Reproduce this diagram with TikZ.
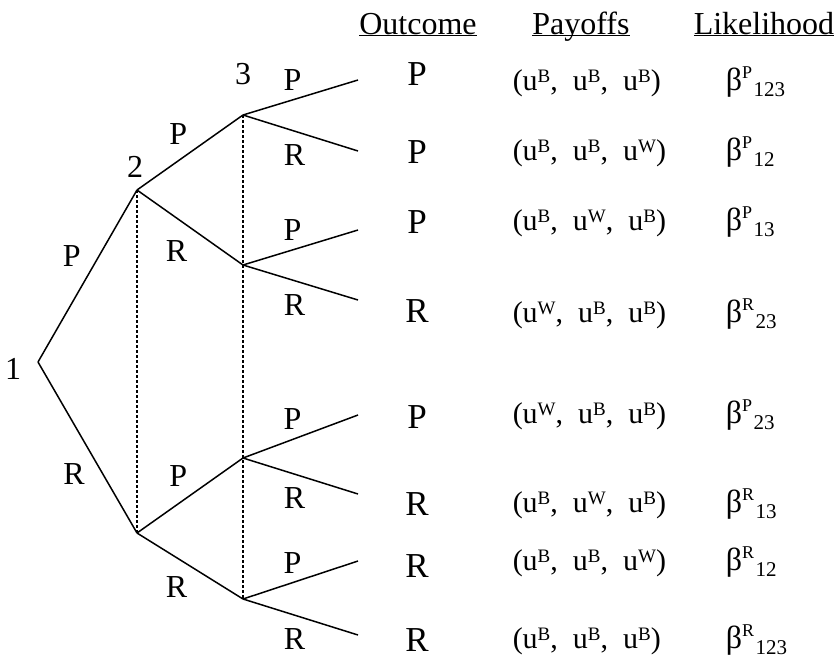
\documentclass[tikz,border=0pt]{standalone}
\usepackage{fontspec}
\setmainfont{Liberation Serif}
\usetikzlibrary{positioning}

\newcommand{\hi}[1]{\raisebox{8pt}{\fontsize{19}{19}\selectfont #1}}
\newcommand{\pay}[3]{(u\hi{#1},\hspace{0.5em}u\hi{#2},\hspace{0.5em}u\hi{#3})}
\newcommand{\lik}[2]{β\raisebox{12pt}{\fontsize{18}{18}\selectfont #1}\hspace{1.5pt}\raisebox{-6pt}{\fontsize{21}{21}\selectfont #2}}

\begin{document}
\begin{tikzpicture}
      [x=1pt, y=-1pt, line width=1.5pt,
       choice/.style={inner sep=2pt, font=\fontsize{32}{32}\selectfont},
       player/.style={inner sep=2pt, font=\fontsize{32}{32}\selectfont},
       upper/.style={choice, above=4pt, xshift=-8pt},
       lower/.style={choice, below=9pt, xshift=-6pt},
       info set/.style={line width=1.2pt, dash pattern=on 3pt off 2pt},
       heading/.style={anchor=base, inner sep=0pt, font=\fontsize{32}{32}\selectfont},
       outcome/.style={anchor=base, inner sep=0pt, font=\fontsize{35}{35}\selectfont},
       payoff/.style={anchor=base west, inner sep=0pt, font=\fontsize{30}{30}\selectfont},
       likely/.style={anchor=base west, inner sep=0pt, font=\fontsize{32}{32}\selectfont}]
      \useasboundingbox (0,0) rectangle (838,659);

      % decision points
      \coordinate (n1) at (38,362);
      \coordinate (n2a) at (137,190);
      \coordinate (n2b) at (137,533);
      \coordinate (n3a) at (243,115);
      \coordinate (n3b) at (243,265);
      \coordinate (n3c) at (243,458);
      \coordinate (n3d) at (243,599);

      % ends of the branches
      \coordinate (l1) at (358,80);
      \coordinate (l2) at (358,151);
      \coordinate (l3) at (358,230);
      \coordinate (l4) at (358,300);
      \coordinate (l5) at (358,415);
      \coordinate (l6) at (358,494);
      \coordinate (l7) at (358,561);
      \coordinate (l8) at (358,635);

      \node[player, left=14pt, yshift=-7pt] (p1) at (n1) {1};
      \node[player, above=10pt, xshift=-2pt] (p2) at (n2a) {2};
      \node[player, above=27pt] (p3) at (n3a) {3};

      % information sets
      \draw[info set] (n2a) -- (n2b);
      \draw[info set] (n3a) -- (n3d);

      \draw (n1) -- node[choice, above left, xshift=-4pt, yshift=7pt] (c1p) {P} (n2a);
      \draw (n1) -- node[choice, below left, yshift=-13pt] (c1r) {R} (n2b);
      \draw (n2a) -- node[choice, above left, yshift=5pt] (c2p) {P} (n3a);
      \draw (n2a) -- node[choice, below left, yshift=-10pt] (c2r) {R} (n3b);
      \draw (n2b) -- node[choice, above left, yshift=6pt] (c3p) {P} (n3c);
      \draw (n2b) -- node[choice, below left, yshift=-8pt] (c3r) {R} (n3d);

      \draw (n3a) -- node[upper] (d1p) {P} (l1);
      \draw (n3a) -- node[lower] (d1r) {R} (l2);
      \draw (n3b) -- node[upper] (d2p) {P} (l3);
      \draw (n3b) -- node[lower] (d2r) {R} (l4);
      \draw (n3c) -- node[upper] (d3p) {P} (l5);
      \draw (n3c) -- node[lower] (d3r) {R} (l6);
      \draw (n3d) -- node[upper] (d4p) {P} (l7);
      \draw (n3d) -- node[lower] (d4r) {R} (l8);

      % table
      \node[heading] (hout) at (418,34) {\underline{\smash{Outcome}}};
      \node[heading] (hpay) at (581,34) {\underline{\smash{Payoffs}}};
      \node[heading] (hlik) at (764,34) {\underline{\smash{Likelihood}}};

      \node[outcome] (o1) at (417,85) {P};
      \node[outcome] (o2) at (417,163) {P};
      \node[outcome] (o3) at (417,233) {P};
      \node[outcome] (o4) at (417,322) {R};
      \node[outcome] (o5) at (417,428) {P};
      \node[outcome] (o6) at (417,515) {R};
      \node[outcome] (o7) at (417,577) {R};
      \node[outcome] (o8) at (417,651) {R};

      \node[payoff] (u1) at (512,90) {\pay{B}{B}{B}};
      \node[payoff] (u2) at (512,160) {\pay{B}{B}{W}};
      \node[payoff] (u3) at (512,230) {\pay{B}{W}{B}};
      \node[payoff] (u4) at (512,322) {\pay{W}{B}{B}};
      \node[payoff] (u5) at (512,423) {\pay{W}{B}{B}};
      \node[payoff] (u6) at (512,512) {\pay{B}{W}{B}};
      \node[payoff] (u7) at (512,570) {\pay{B}{B}{W}};
      \node[payoff] (u8) at (512,648) {\pay{B}{B}{B}};

      \node[likely] (b1) at (725,90) {\lik{P}{123}};
      \node[likely] (b2) at (725,160) {\lik{P}{12}};
      \node[likely] (b3) at (725,230) {\lik{P}{13}};
      \node[likely] (b4) at (725,322) {\lik{R}{23}};
      \node[likely] (b5) at (725,423) {\lik{P}{23}};
      \node[likely] (b6) at (725,512) {\lik{R}{13}};
      \node[likely] (b7) at (725,570) {\lik{R}{12}};
      \node[likely] (b8) at (725,648) {\lik{R}{123}};
\end{tikzpicture}
\end{document}
